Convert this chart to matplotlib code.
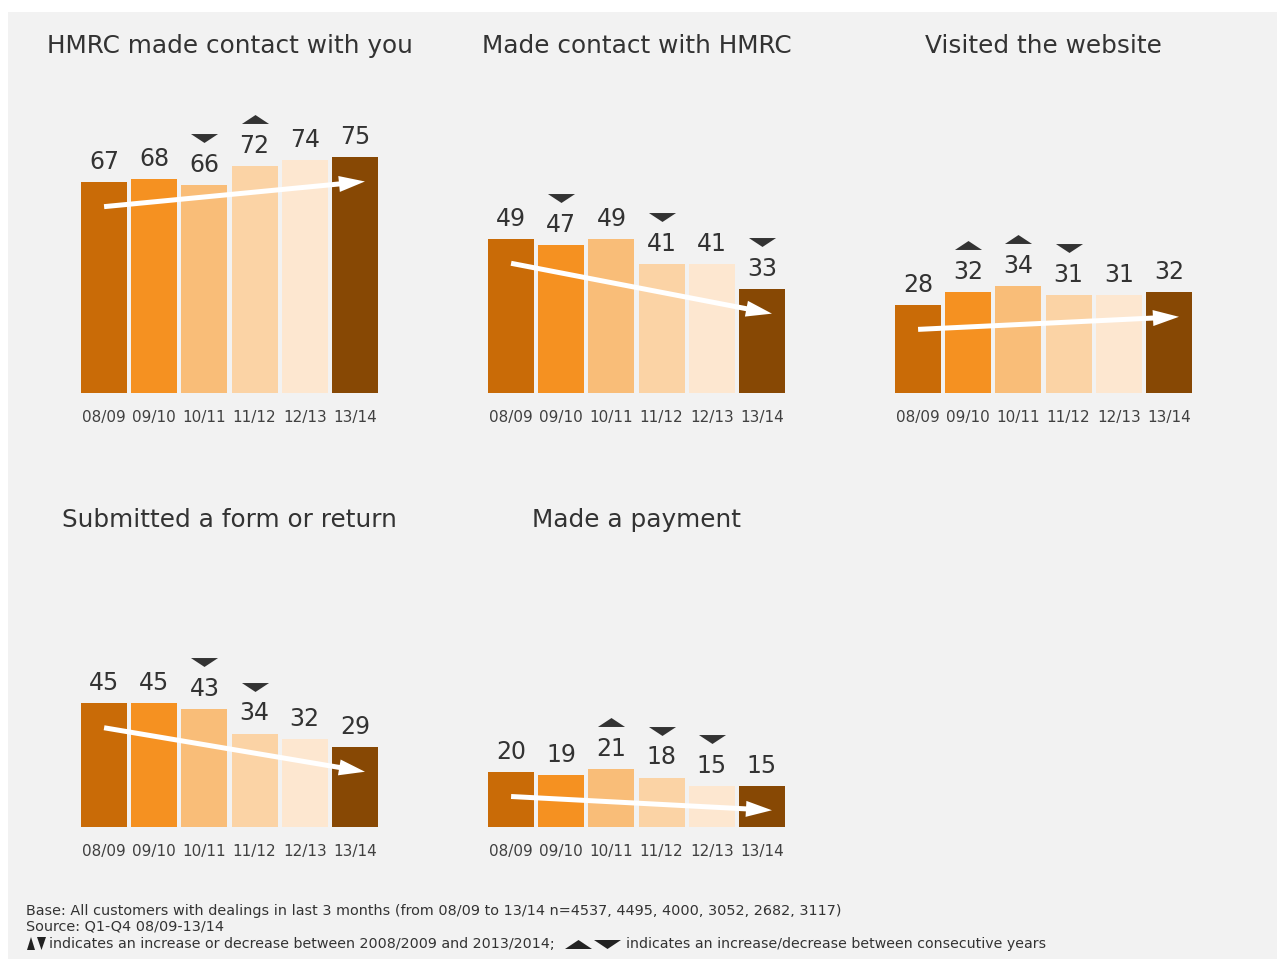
import matplotlib
matplotlib.use("Agg")
import numpy as np
import matplotlib.pyplot as plt
from matplotlib.patches import Rectangle, Polygon
from matplotlib.path import Path
from matplotlib.transforms import ScaledTranslation, IdentityTransform

plt.rcParams['font.family'] = ['DejaVu Sans']

# ---- data -------------------------------------------------------------
years = ["08/09", "09/10", "10/11", "11/12", "12/13", "13/14"]
bar_colors = ["#c96b07", "#f59121", "#f9bd78", "#fbd3a5", "#fde7d0", "#874804"]

titles = ["HMRC made contact with you", "Made contact with HMRC", "Visited the website",
          "Submitted a form or return", "Made a payment"]

hmrc_contact = [67, 68, 66, 72, 74, 75]
contact_hmrc = [49, 47, 49, 41, 41, 33]
visited_web = [28, 32, 34, 31, 31, 32]
submitted_form = [45, 45, 43, 34, 32, 29]
made_payment = [20, 19, 21, 18, 15, 15]

# significant change vs previous year: +1 up, -1 down, 0 none
chg_hmrc_contact = [0, 0, -1, 1, 0, 0]
chg_contact_hmrc = [0, -1, 0, -1, 0, -1]
chg_visited_web = [0, 1, 1, -1, 0, 0]
chg_submitted_form = [0, 0, -1, -1, 0, 0]
chg_made_payment = [0, 0, 1, -1, -1, 0]

footer_base = ("Base: All customers with dealings in last 3 months "
               "(from 08/09 to 13/14 n=4537, 4495, 4000, 3052, 2682, 3117)")
footer_source = "Source: Q1-Q4 08/09-13/14"
footer_key1 = "indicates an increase or decrease between 2008/2009 and 2013/2014;"
footer_key2 = "indicates an increase/decrease between consecutive years"

series = [hmrc_contact, contact_hmrc, visited_web, submitted_form, made_payment]
changes = [chg_hmrc_contact, chg_contact_hmrc, chg_visited_web,
           chg_submitted_form, chg_made_payment]

# ---- layout (pixels) --------------------------------------------------
W, H = 1277, 959
DPI = 100
fig = plt.figure(figsize=(W / DPI, H / DPI), dpi=DPI, facecolor="white")

def fx(x):
    return x / W

def fy(y):
    return 1 - y / H

fig.patches.append(Rectangle((fx(8), 0), 1 - fx(8), fy(12), transform=fig.transFigure,
                             facecolor="#f2f2f2", edgecolor="none", zorder=-10))

# panel left edges and baselines, px per unit
panel_left = [79, 486, 893, 79, 486]
panel_base = [393, 393, 393, 827, 827]
panel_scale = [3.147, 3.147, 3.147, 2.75, 2.75]
title_y = [45, 45, 45, 519, 519]
ax_w = 301

TEXT = "#333333"
TICK = "#404040"

up_tri = Path([(-1, -0.33), (1, -0.33), (0, 0.33), (-1, -0.33)],
              [Path.MOVETO, Path.LINETO, Path.LINETO, Path.CLOSEPOLY])
down_tri = Path([(-1, 0.33), (1, 0.33), (0, -0.33), (-1, 0.33)],
                [Path.MOVETO, Path.LINETO, Path.LINETO, Path.CLOSEPOLY])


def trend_arrow(ax, start, end, trans, shaft=5.0, head_len=26.0, head_w=16.0):
    """White arrow drawn in pixel space between two data points."""
    p0 = np.array(trans.transform(start))
    p1 = np.array(trans.transform(end))
    d = (p1 - p0) / np.hypot(*(p1 - p0))
    n = np.array([-d[1], d[0]])
    base = p1 - d * head_len
    pts = [p0 + n * shaft / 2, base + n * shaft / 2, base + n * head_w / 2, p1,
           base - n * head_w / 2, base - n * shaft / 2, p0 - n * shaft / 2]
    ax.add_patch(Polygon(pts, closed=True, transform=IdentityTransform(),
                         facecolor="white", edgecolor="none", zorder=3, clip_on=False))


for k in range(5):
    vals = series[k]
    h_px = 100 * panel_scale[k]
    ax = fig.add_axes([fx(panel_left[k]), fy(panel_base[k]), ax_w / W, h_px / H])
    ax.set_xlim(-0.5, 5.5)
    ax.set_ylim(0, 100)
    ax.patch.set_alpha(0)
    for s in ax.spines.values():
        s.set_visible(False)
    ax.set_yticks([])
    x = list(range(len(years)))
    ax.bar(x, vals, width=0.916, color=bar_colors, edgecolor="none", zorder=2)
    ax.set_xticks(x)
    ax.set_xticklabels(years, fontsize=11, color=TICK)
    ax.tick_params(axis="x", length=0, pad=12)

    for i, v in enumerate(vals):
        ax.annotate(str(v), (i, v), xytext=(0, 13 * 0.72), textcoords="offset points",
                    ha="center", va="baseline", fontsize=17, color=TEXT, zorder=4)
        c = changes[k][i]
        if c != 0:
            tr = ax.transData + ScaledTranslation(0, 0.47, fig.dpi_scale_trans)
            ax.plot([i], [v], marker=up_tri if c > 0 else down_tri, markersize=19.5,
                    color="#333333", markeredgewidth=0, linestyle="none",
                    transform=tr, clip_on=False, zorder=4)

    # overall trend arrow from first to last year
    tr = ax.transData + ScaledTranslation(0, -0.245, fig.dpi_scale_trans)
    trend_arrow(ax, (0, vals[0]), (5.2, vals[-1]), tr)

    fig.text(fx(panel_left[k] + ax_w / 2), fy(title_y[k] + 1), titles[k], ha="center",
             va="center", fontsize=17.8, color=TEXT)

# ---- footer -----------------------------------------------------------
fig.text(fx(26), fy(911), footer_base, fontsize=10.4, color=TEXT, va="center")
fig.text(fx(26), fy(927), footer_source, fontsize=10.4, color=TEXT, va="center")

# narrow overall-change markers
fig.patches.append(Polygon([(fx(27), fy(950)), (fx(35), fy(950)), (fx(31), fy(937))],
                           closed=True, transform=fig.transFigure, facecolor="#222222",
                           edgecolor="none"))
fig.patches.append(Polygon([(fx(37), fy(937)), (fx(46), fy(937)), (fx(41.5), fy(950))],
                           closed=True, transform=fig.transFigure, facecolor="#222222",
                           edgecolor="none"))
fig.text(fx(49), fy(944), footer_key1, fontsize=10.3, color=TEXT, va="center")

# wide consecutive-year markers
fig.patches.append(Polygon([(fx(565), fy(949)), (fx(592), fy(949)), (fx(578.5), fy(940))],
                           closed=True, transform=fig.transFigure, facecolor="#222222",
                           edgecolor="none"))
fig.patches.append(Polygon([(fx(594), fy(940)), (fx(621), fy(940)), (fx(607.5), fy(949))],
                           closed=True, transform=fig.transFigure, facecolor="#222222",
                           edgecolor="none"))
fig.text(fx(626), fy(944), footer_key2, fontsize=10.2, color=TEXT, va="center")

fig.savefig("out.png", dpi=DPI, facecolor="white")
